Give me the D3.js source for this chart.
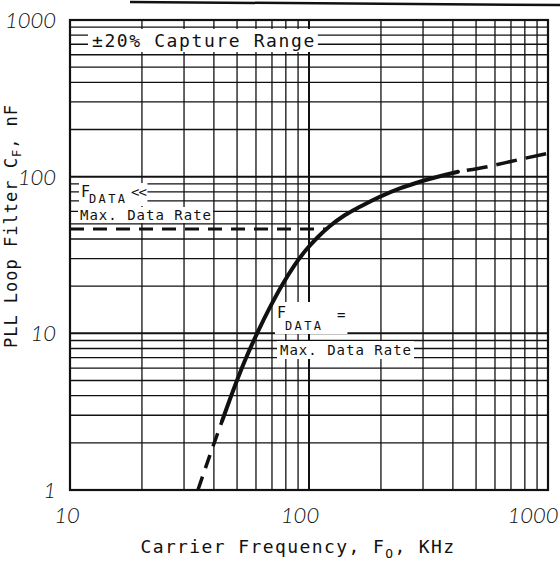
<!DOCTYPE html>
<html><head><meta charset="utf-8">
<script src="https://cdn.jsdelivr.net/npm/d3@7"></script>
<style>body{margin:0;background:#fff}svg{display:block}</style>
</head><body><svg id="c" width="560" height="562"></svg>
<script>
// ---- data ----
const xTickLabels=[10,100,1000];
const yTickLabels=[1,10,100,1000];
const lowFreq=[34.3,38.5,43.3];          // dashed extrapolation, low end
const lowCap=[1,1.67,2.76];
const midFreq=[43.3,48.6,54.5,61.2,68.7,77.1,86.5,97.1,109,122.4,141.5,163.4,240,291,420]; // solid curve
const midCap=[2.76,4.48,6.96,10.3,14.7,20.3,26.9,34.0,41.2,48.4,56.9,64.3,84.2,92.8,107.5];
const highFreq=[420,562,740,1000];       // dashed extrapolation, high end
const highCap=[107.5,116,127.6,141];
const maxRateFreq=[10,118];              // horizontal dashed level line
const maxRateCap=[46.3,46.3];

// ---- setup ----
const svg=d3.select('#c');
const m={l:70,t:20,r:548,b:490};
const x=d3.scaleLog().domain([10,1000]).range([m.l,m.r]);
const y=d3.scaleLog().domain([1,1000]).range([m.b,m.t]);
const isDecade=v=>Math.abs(Math.log10(v)-Math.round(Math.log10(v)))<1e-9;
const ink='#111';
const mono='"DejaVu Sans Mono","Liberation Mono",monospace';

// scan artefact line at top
svg.append('line').attr('x1',130).attr('y1',2).attr('x2',560).attr('y2',5)
  .attr('stroke',ink).attr('stroke-width',2.5);

// ---- grid ----
const grid=svg.append('g');
grid.selectAll('line.v').data(x.ticks()).join('line').attr('class','v')
  .attr('x1',d=>x(d)).attr('x2',d=>x(d)).attr('y1',m.t).attr('y2',m.b)
  .attr('stroke',ink).attr('stroke-width',d=>isDecade(d)?2:1.3);
grid.selectAll('line.h').data(y.ticks()).join('line').attr('class','h')
  .attr('y1',d=>y(d)).attr('y2',d=>y(d)).attr('x1',m.l).attr('x2',m.r)
  .attr('stroke',ink).attr('stroke-width',d=>isDecade(d)?2:1.3);
svg.append('rect').attr('x',m.l).attr('y',m.t).attr('width',m.r-m.l).attr('height',m.b-m.t)
  .attr('fill','none').attr('stroke',ink).attr('stroke-width',2.2);

// ---- horizontal dashed level line ----
const line=d3.line().x(d=>x(d[0])).y(d=>y(d[1]));
svg.append('path').datum(d3.zip(maxRateFreq,maxRateCap)).attr('d',line)
  .attr('fill','none').attr('stroke',ink).attr('stroke-width',3).attr('stroke-dasharray','14,9');

// ---- labels with white backgrounds ----
function label(build,pad){
  const g=svg.append('g');
  const bg=g.append('rect').attr('fill','#fff');
  const t=g.append('g');
  build(t);
  const b=t.node().getBBox();
  bg.attr('x',b.x-pad[0]).attr('y',b.y-pad[1]).attr('width',b.width+pad[0]+pad[2]).attr('height',b.height+pad[1]+pad[3]);
}
label(t=>{
  t.append('text').attr('x',92).attr('y',47).attr('font-family',mono).attr('font-size',18)
   .attr('letter-spacing',1.6).attr('fill',ink).text('±20% Capture Range');
},[4,1,2,1]);
label(t=>{
  const tx=t.append('text').attr('font-family',mono).attr('fill',ink);
  tx.append('tspan').attr('x',81).attr('y',197).attr('font-size',15).text('F');
  tx.append('tspan').attr('x',89).attr('y',203).attr('font-size',12).attr('letter-spacing',2.4).text('DATA');
  tx.append('tspan').attr('x',131).attr('y',197).attr('font-size',14).attr('letter-spacing',-1).text('<<');
},[2,0,1,0]);
label(t=>{
  t.append('text').attr('x',80).attr('y',220).attr('font-family',mono).attr('font-size',14)
   .attr('letter-spacing',1).attr('fill',ink).text('Max. Data Rate');
},[2,0,1,0]);
label(t=>{
  const tx=t.append('text').attr('font-family',mono).attr('fill',ink);
  tx.append('tspan').attr('x',277).attr('y',318).attr('font-size',15).text('F');
  tx.append('tspan').attr('x',285).attr('y',330).attr('font-size',12).attr('letter-spacing',2.4).text('DATA');
  tx.append('tspan').attr('x',337).attr('y',320).attr('font-size',14).text('=');
},[2,2,2,1]);
label(t=>{
  t.append('text').attr('x',280).attr('y',355).attr('font-family',mono).attr('font-size',14)
   .attr('letter-spacing',1).attr('fill',ink).text('Max. Data Rate');
},[3,1,2,1]);

// ---- curve ----
const cline=d3.line().x(d=>x(d[0])).y(d=>y(d[1])).curve(d3.curveMonotoneX);
svg.append('path').datum(d3.zip(lowFreq,lowCap)).attr('d',cline)
  .attr('fill','none').attr('stroke',ink).attr('stroke-width',3.5).attr('stroke-dasharray','14,9');
svg.append('path').datum(d3.zip(midFreq,midCap)).attr('d',cline)
  .attr('fill','none').attr('stroke',ink).attr('stroke-width',4).attr('stroke-linecap','round');
svg.append('path').datum(d3.zip(highFreq,highCap)).attr('d',cline)
  .attr('fill','none').attr('stroke',ink).attr('stroke-width',3.5)
  .attr('stroke-dasharray','21,9').attr('stroke-dashoffset',21);

// ---- tick labels ----
const hand='Lato,"Liberation Sans","DejaVu Sans",sans-serif';
svg.selectAll('text.yt').data(yTickLabels).join('text').attr('class','yt')
  .attr('x',56).attr('y',d=>y(d)+8).attr('text-anchor','end')
  .attr('font-family',hand).attr('font-style','italic').attr('font-weight',300)
  .attr('font-size',22).attr('fill',ink).text(d=>d);
svg.selectAll('text.xt').data(xTickLabels).join('text').attr('class','xt')
  .attr('x',(d,i)=>x(d)-3-6*i).attr('y',523).attr('text-anchor','middle')
  .attr('font-family',hand).attr('font-style','italic').attr('font-weight',300)
  .attr('font-size',22).attr('fill',ink).text(d=>d);

// ---- axis titles ----
const xt=svg.append('text').attr('x',298).attr('y',553).attr('text-anchor','middle')
  .attr('font-family',mono).attr('font-size',18).attr('letter-spacing',1.4).attr('fill',ink);
xt.append('tspan').text('Carrier Frequency, F');
xt.append('tspan').attr('font-size',13).attr('dy',5).text('O');
xt.append('tspan').attr('dy',-5).text(', KHz');

const yt=svg.append('text').attr('transform','translate(17,226) rotate(-90)').attr('text-anchor','middle')
  .attr('font-family',mono).attr('font-size',17).attr('letter-spacing',1).attr('fill',ink);
yt.append('tspan').text('PLL Loop Filter C');
yt.append('tspan').attr('font-size',12).attr('dy',4).text('F');
yt.append('tspan').attr('dy',-4).text(', nF');
</script></body></html>
